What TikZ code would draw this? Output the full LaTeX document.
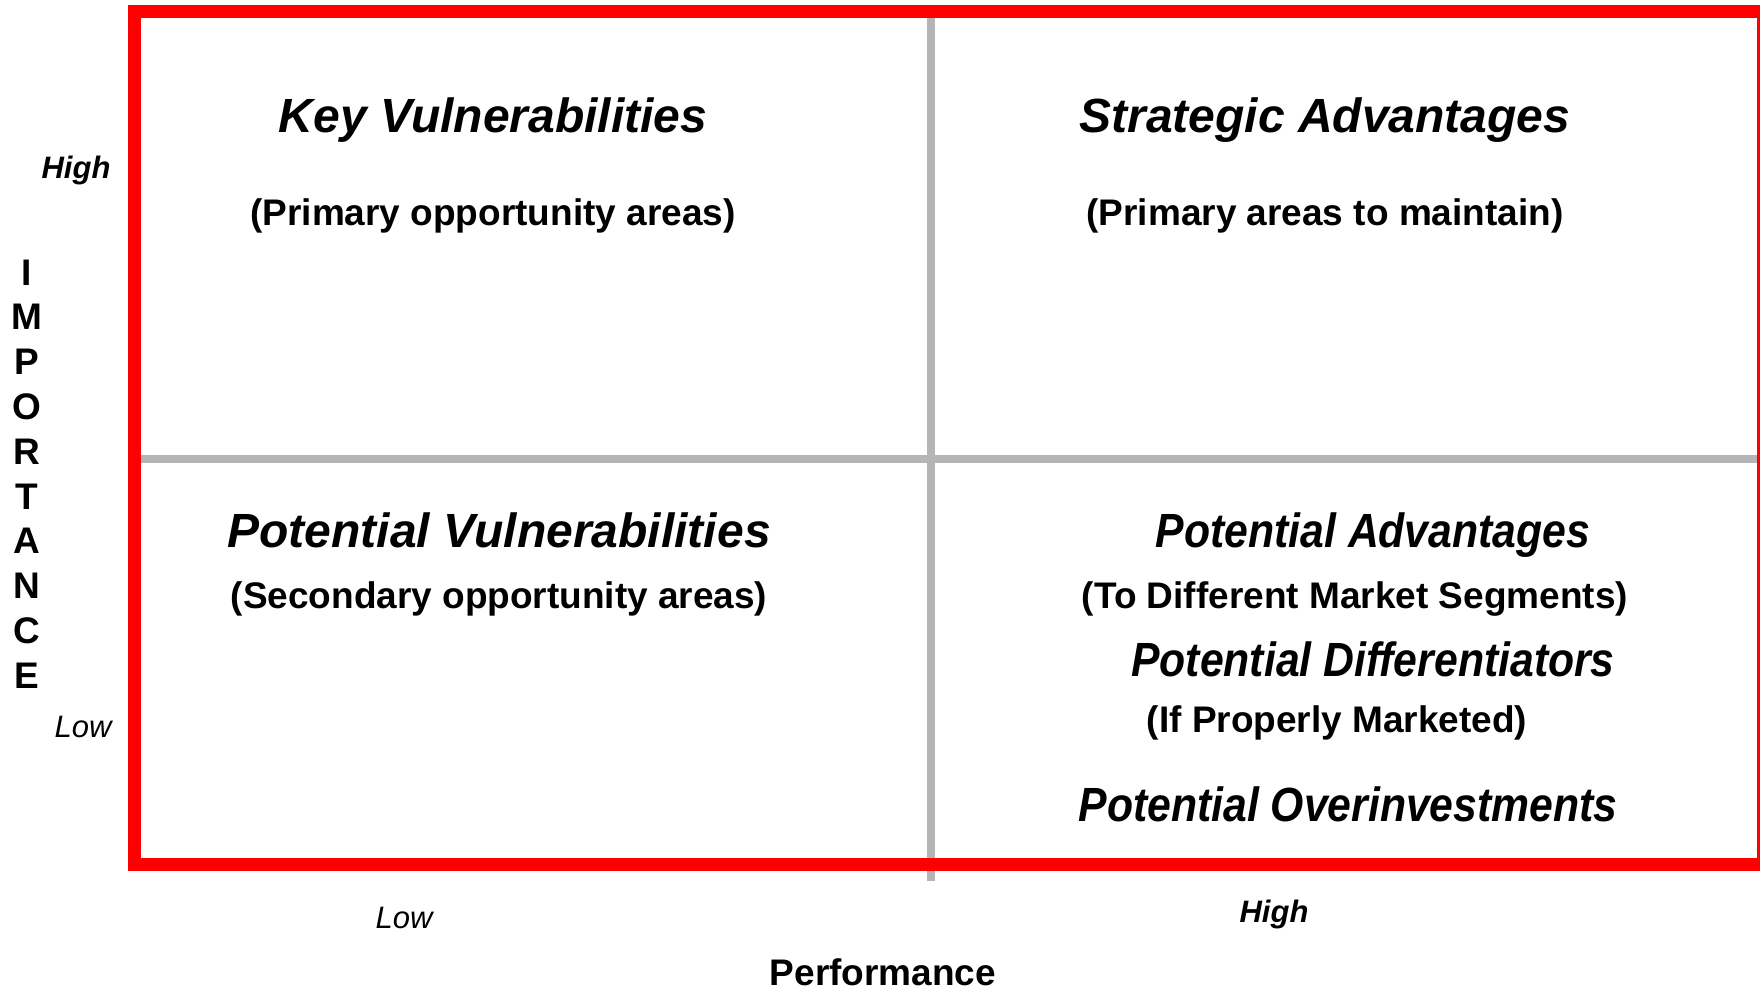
\documentclass[tikz,border=0pt]{standalone}
\usepackage{fontspec}
\setmainfont{Liberation Sans}
\definecolor{boxred}{RGB}{255,0,0}
\definecolor{divgray}{RGB}{181,181,181}
\newcommand{\narrow}[1]{\scalebox{0.89}[1]{#1}}

\begin{document}
\begin{tikzpicture}[x=1pt,y=-1pt,
    head/.style = {font=\fontsize{48}{56}\selectfont\bfseries\itshape, inner sep=0pt, anchor=base},
    sub/.style = {font=\fontsize{37}{44}\selectfont\bfseries, inner sep=0pt, anchor=base},
    hi/.style = {font=\fontsize{31}{36}\selectfont\bfseries\itshape, inner sep=0pt, anchor=base},
    lo/.style = {font=\fontsize{31}{36}\selectfont\itshape, inner sep=0pt, anchor=base},
    ax/.style = {font=\fontsize{37}{44}\selectfont\bfseries, inner sep=0pt, text depth=0pt, anchor=base}]
            \useasboundingbox (0,0) rectangle (1760,991);
            % dividers
            \coordinate (top) at (931,18);
            \coordinate (bot) at (931,881);
            \coordinate (left) at (141,459);
            \coordinate (right) at (1757,459);
            \draw[divgray, line width=8pt] (top) -- (bot);
            \draw[divgray, line width=8pt] (left) -- (right);
            \draw[boxred, line width=13pt] (134.5,11.5) rectangle (1763.5,864);
            % quadrants
            \node[head] (kv) at (493,132) {Key Vulnerabilities};
            \node[sub] (kvs) at (493,225) {(Primary opportunity areas)};
            \node[head] (sa) at (1325,132) {Strategic Advantages};
            \node[sub] (sas) at (1325,225) {(Primary areas to maintain)};
            \node[head] (pv) at (499,547) {Potential Vulnerabilities};
            \node[sub] (pvs) at (499,608) {(Secondary opportunity areas)};
            \node[head] (pa) at (1373,547) {\narrow{Potential Advantages}};
            \node[sub] (pas) at (1355,608) {(To Different Market Segments)};
            \node[head] (pd) at (1373,676) {\narrow{Potential Differentiators}};
            \node[sub] (pds) at (1337,732) {(If Properly Marketed)};
            \node[head] (po) at (1348,821) {\narrow{Potential Overinvestments}};
            % axes
            \node[hi] (yhigh) at (76,178) {High};
            \node[lo] (ylow) at (83,737) {Low};
            \node[lo] (xlow) at (404,928) {Low};
            \node[hi] (xhigh) at (1274,922) {High};
            \node[ax] (perf) at (883,985) {Performance};
            \foreach \l [count=\i from 0] in {I,M,P,O,R,T,A,N,C,E}
                \node[ax] (imp\i) at (27,285+44.8*\i) {\l};
        \end{tikzpicture}
\end{document}
